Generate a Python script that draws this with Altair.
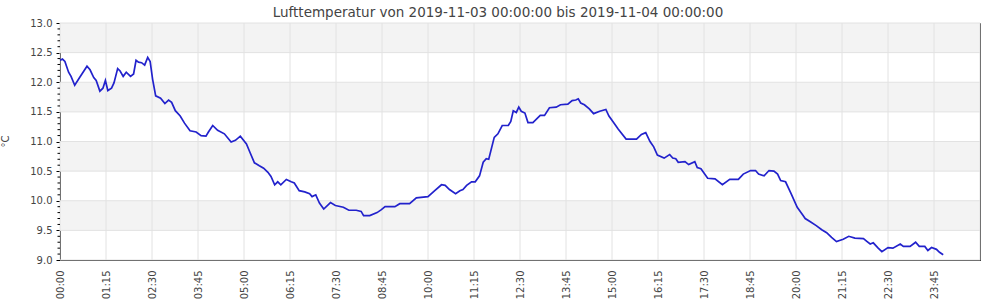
import altair as alt
import pandas as pd

# ---- data (minutes since 2019-11-03 00:00, temperature in °C) ----
minutes = [
    0, 4, 8, 14, 18, 24, 32, 44, 49, 55, 59, 65, 70, 74, 78, 84, 88, 94, 98, 103,
    108, 115, 120, 124, 128, 133, 138, 143, 147, 151, 156, 164, 171, 177, 182, 188,
    196, 203, 212, 222, 230, 238, 242, 249, 257, 268, 279, 286, 294, 304, 310, 317,
    325, 332, 339, 344, 350, 355, 360, 369, 377, 382, 390, 399, 407, 411, 417, 423,
    430, 441, 449, 462, 471, 483, 491, 495, 505, 517, 524, 530, 546, 554, 570, 581,
    600, 611, 622, 628, 635, 645, 652, 657, 663, 671, 677, 684, 690, 695, 699, 708,
    714, 721, 731, 735, 739, 744, 748, 752, 758, 763, 771, 783, 790, 798, 809, 816,
    828, 835, 841, 845, 849, 855, 863, 870, 880, 890, 895, 902, 910, 923, 940, 948,
    955, 962, 968, 974, 985, 994, 999, 1004, 1008, 1019, 1025, 1035, 1039, 1045,
    1056, 1068, 1080, 1092, 1106, 1114, 1126, 1134, 1139, 1148, 1156, 1164, 1170,
    1175, 1183, 1192, 1202, 1211, 1215, 1224, 1233, 1242, 1250, 1258, 1266, 1277,
    1286, 1296, 1310, 1316, 1321, 1326, 1334, 1340, 1350, 1358, 1370, 1375, 1386,
    1395, 1401, 1410, 1415, 1421, 1429, 1434, 1440,
]
temps = [
    12.37, 12.39, 12.35, 12.17, 12.10, 11.95, 12.08, 12.27, 12.21, 12.08, 12.03, 11.85,
    11.90, 12.03, 11.86, 11.90, 11.99, 12.23, 12.19, 12.10, 12.17, 12.10, 12.14, 12.37,
    12.34, 12.33, 12.29, 12.42, 12.35, 12.05, 11.77, 11.73, 11.64, 11.70, 11.66, 11.52,
    11.43, 11.31, 11.18, 11.16, 11.10, 11.09, 11.16, 11.27, 11.19, 11.13, 10.99, 11.02,
    11.09, 10.96, 10.81, 10.64, 10.59, 10.55, 10.48, 10.41, 10.27, 10.32, 10.27, 10.36,
    10.32, 10.30, 10.17, 10.15, 10.12, 10.07, 10.10, 9.96, 9.86, 9.97, 9.92, 9.89,
    9.84, 9.84, 9.82, 9.75, 9.75, 9.80, 9.85, 9.90, 9.90, 9.95, 9.95, 10.05,
    10.07, 10.17, 10.27, 10.26, 10.19, 10.12, 10.17, 10.19, 10.26, 10.32, 10.32, 10.42,
    10.65, 10.71, 10.70, 11.07, 11.13, 11.27, 11.27, 11.34, 11.52, 11.49, 11.58, 11.51,
    11.48, 11.32, 11.32, 11.44, 11.44, 11.57, 11.58, 11.62, 11.63, 11.69, 11.70, 11.72,
    11.65, 11.62, 11.55, 11.47, 11.51, 11.54, 11.43, 11.33, 11.21, 11.04, 11.04, 11.12,
    11.15, 11.00, 10.91, 10.77, 10.72, 10.78, 10.72, 10.71, 10.65, 10.66, 10.61, 10.66,
    10.56, 10.54, 10.38, 10.37, 10.27, 10.36, 10.36, 10.45, 10.51, 10.51, 10.45, 10.42,
    10.51, 10.50, 10.45, 10.34, 10.32, 10.12, 9.89, 9.76, 9.70, 9.64, 9.58, 9.51,
    9.46, 9.38, 9.31, 9.35, 9.40, 9.37, 9.36, 9.31, 9.27, 9.29, 9.20, 9.14,
    9.21, 9.20, 9.27, 9.23, 9.23, 9.30, 9.23, 9.23, 9.16, 9.21, 9.18, 9.13, 9.09,
]

x_tick_labels = ["00:00", "01:15", "02:30", "03:45", "05:00", "06:15", "07:30",
                 "08:45", "10:00", "11:15", "12:30", "13:45", "15:00", "16:15",
                 "17:30", "18:45", "20:00", "21:15", "22:30", "23:45", "25:00"]
y_tick_labels = ["9.0", "9.5", "10.0", "10.5", "11.0", "11.5", "12.0", "12.5", "13.0"]
y_minor_labels = ["9.1", "9.2", "9.3", "9.4", "9.6", "9.7", "9.8", "9.9",
                  "10.1", "10.2", "10.3", "10.4", "10.6", "10.7", "10.8", "10.9",
                  "11.1", "11.2", "11.3", "11.4", "11.6", "11.7", "11.8", "11.9",
                  "12.1", "12.2", "12.3", "12.4", "12.6", "12.7", "12.8", "12.9"]
band_lo = [9.5, 10.5, 11.5, 12.5]
band_hi = [10.0, 11.0, 12.0, 13.0]

title_text = "Lufttemperatur von 2019-11-03 00:00:00 bis 2019-11-04 00:00:00"

# ---- derived tables ----
def to_min(s):
    h, m = s.split(":")
    return int(h) * 60 + int(m)

x_ticks = [to_min(s) for s in x_tick_labels]
y_ticks = [float(s) for s in y_tick_labels]
y_minor = [float(s) for s in y_minor_labels]

df = pd.DataFrame({"t": minutes, "v": temps})
bands = pd.DataFrame({"v": band_lo, "hi": band_hi})
vgrid = pd.DataFrame({"t": x_ticks})
hgrid = pd.DataFrame({"v": y_ticks})
minor = pd.DataFrame({"v": y_minor})

x_scale = alt.Scale(domain=[0, 1500], nice=False, zero=False)
y_scale = alt.Scale(domain=[9.0, 13.0], nice=False, zero=False)

FONT = "DejaVu Sans"
TXT = "#444444"

label_expr = ("pad(toString(floor(datum.value/60)%24), 2, '0', 'left') + ':' + "
              "pad(toString(datum.value%60), 2, '0', 'left')")

x_axis = alt.Axis(
    values=x_ticks[:-1], labelExpr=label_expr, labelAngle=270,
    ticks=False, labelPadding=10, domain=False, grid=False, title=None,
    labelFont=FONT, labelFontSize=10, labelColor=TXT,
    labelOverlap=False, labelFlush=False, labelBound=False)

y_axis = alt.Axis(
    values=y_ticks, format=".1f", tickSize=4, tickColor="#000000",
    labelPadding=4, domain=False, grid=False,
    labelFont=FONT, labelFontSize=10, labelColor=TXT,
    labelOverlap=False, labelFlush=False,
    title="°C", titleFont=FONT, titleFontSize=10, titleFontWeight="normal",
    titleColor=TXT, titleAngle=270, titleX=-55, titleY=118,
    titleAlign="center", titleBaseline="middle")

X = lambda f: alt.X(f, type="quantitative", scale=x_scale, axis=x_axis)
Y = lambda f: alt.Y(f, type="quantitative", scale=y_scale, axis=y_axis)

band_layer = alt.Chart(bands).mark_rect(color="#f3f3f3").encode(
    y=Y("v"),
    y2="hi:Q",
    x=alt.value(0),
    x2=alt.value("width"),
)

vgrid_layer = alt.Chart(vgrid).mark_rule(color="#e2e2e2", strokeWidth=1).encode(
    x=X("t"),
)

hgrid_layer = alt.Chart(hgrid).mark_rule(color="#e2e2e2", strokeWidth=1).encode(
    y=Y("v"),
)

minor_layer = alt.Chart(minor).mark_rule(color="#000000", strokeWidth=1).encode(
    y=Y("v"),
    x=alt.value(-2.5),
    x2=alt.value(0),
)

line_layer = alt.Chart(df).mark_line(color="#2222cc", strokeWidth=1.7).encode(
    x=X("t"),
    y=Y("v"),
)

chart = alt.layer(band_layer, vgrid_layer, hgrid_layer, minor_layer, line_layer).properties(
    width=920,
    height=237,
    padding={"left": 60, "top": 23, "right": 20, "bottom": 40},
    autosize=alt.AutoSizeParams(type="none"),
    title=alt.TitleParams(text=title_text, font=FONT, fontSize=13.5, fontWeight="normal",
                          color=TXT, anchor="middle", offset=6, dx=-22, dy=7),
).configure_view(
    stroke="#000000", strokeWidth=1
)

chart.save("out.html", embed_options={"renderer": "svg", "actions": False})
